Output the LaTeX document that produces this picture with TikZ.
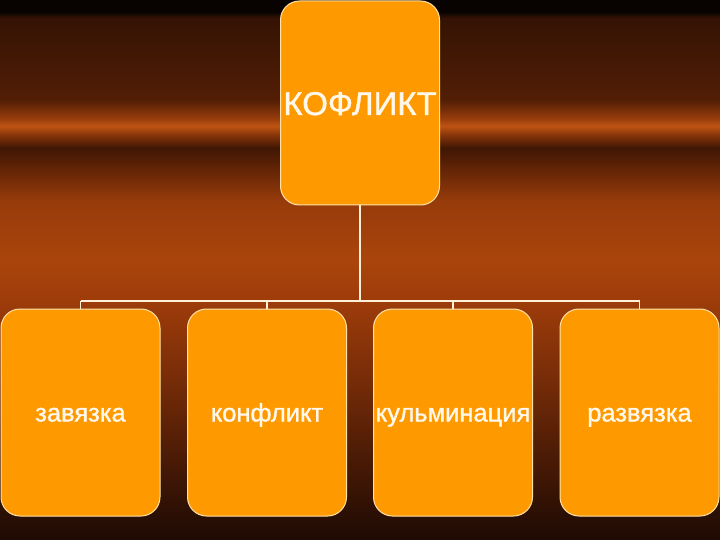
\documentclass[tikz,border=0pt]{standalone}
\usepackage{fontspec}
\setmainfont{Liberation Sans}
\newfontfamily\heavyish[FakeBold=1.2]{Liberation Sans}
\definecolor{bgA}{RGB}{8,3,0}
\definecolor{bgB}{RGB}{52,19,4}
\definecolor{bgC}{RGB}{82,30,5}
\definecolor{bgD}{RGB}{150,60,12}
\definecolor{bgE}{RGB}{190,84,18}
\definecolor{bgF}{RGB}{140,55,10}
\definecolor{bgG}{RGB}{64,22,4}
\definecolor{bgH}{RGB}{84,30,5}
\definecolor{bgI}{RGB}{150,59,10}
\definecolor{bgJ}{RGB}{170,68,12}
\definecolor{bgK}{RGB}{158,60,10}
\definecolor{bgL}{RGB}{118,44,8}
\definecolor{bgM}{RGB}{68,24,5}
\definecolor{bgN}{RGB}{40,14,4}
\definecolor{bgO}{RGB}{30,10,3}
\definecolor{boxfill}{RGB}{255,153,0}
\definecolor{boxline}{RGB}{255,226,170}
\definecolor{connline}{RGB}{255,240,215}
\definecolor{txt}{RGB}{255,248,235}
\pgfdeclareverticalshading{bgshade}{100bp}{%
color(0bp)=(bgO);
color(25bp)=(bgO);
color(26.85bp)=(bgN);
color(31.48bp)=(bgM);
color(39.81bp)=(bgL);
color(47.22bp)=(bgK);
color(50.93bp)=(bgJ);
color(56.48bp)=(bgI);
color(60.19bp)=(bgH);
color(61.30bp)=(bgG);
color(62.59bp)=(bgF);
color(63.33bp)=(bgE);
color(64.07bp)=(bgD);
color(65.74bp)=(bgC);
color(73.33bp)=(bgB);
color(73.89bp)=(bgA);
color(75bp)=(bgA);
color(100bp)=(bgA)}
\tikzset{
  box/.style={draw=boxline, line width=1pt, fill=boxfill, rounded corners=19pt,
    inner sep=0pt, outer sep=0pt, text=txt, align=center},
  topbox/.style={box, minimum width=159pt, minimum height=204pt,
    text height=24pt, text depth=0pt,
    font=\heavyish\fontsize{33}{38}\selectfont},
  lowbox/.style={box, minimum width=159pt, minimum height=207pt,
    text height=18pt, text depth=0pt,
    font=\heavyish\fontsize{25.5}{30}\selectfont},
  conn/.style={draw=connline, line width=1.8pt}
}
\begin{document}
\begin{tikzpicture}[x=1pt,y=-1pt]
\useasboundingbox (0,0) rectangle (720,540);
\shade[shading=bgshade] (0,0) rectangle (720,540);
\node[topbox] (top) at (360,103) {КОФЛИКТ};
\node[lowbox] (b1) at (80.5,412.5) {завязка};
\node[lowbox] (b2) at (267,412.5) {конфликт};
\node[lowbox] (b3) at (453,412.5) {кульминация};
\node[lowbox] (b4) at (639.5,412.5) {развязка};
\coordinate (bar) at (0,301);
\draw[conn] (top.south) -- (top.south |- bar);
\draw[conn] (b1.north |- bar) -- (b4.north |- bar);
\draw[conn] (b1.north) -- (b1.north |- bar);
\draw[conn] (b2.north) -- (b2.north |- bar);
\draw[conn] (b3.north) -- (b3.north |- bar);
\draw[conn] (b4.north) -- (b4.north |- bar);
\end{tikzpicture}
\end{document}
